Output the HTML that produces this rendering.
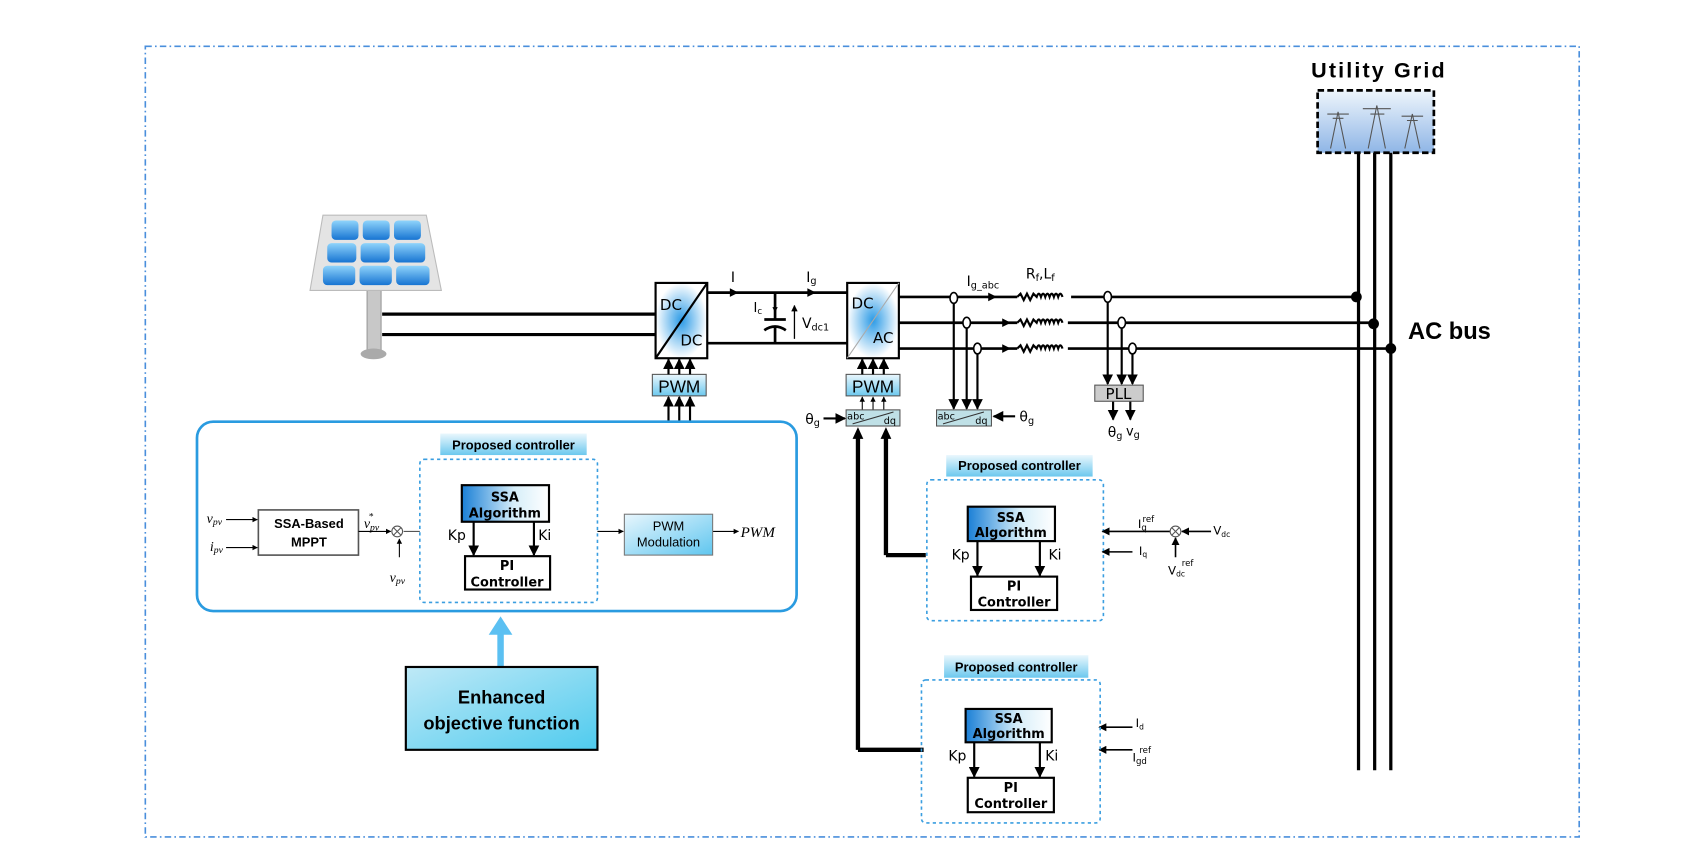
<!DOCTYPE html>
<html><head><meta charset="utf-8"><style>
html,body{margin:0;padding:0;background:#fff;}
svg{display:block;}
text{font-family:"Liberation Sans",sans-serif;}
.c{font-family:"DejaVu Sans","Liberation Sans",sans-serif;}
.s{font-family:"Liberation Serif",serif;font-style:italic;}
</style></head><body>
<svg width="1689" height="866" viewBox="0 0 1569 805" preserveAspectRatio="none" xmlns="http://www.w3.org/2000/svg">
<defs>
<marker id="a" viewBox="0 0 10 10" refX="9" refY="5" markerWidth="5" markerHeight="5" orient="auto"><path d="M0,0L10,5L0,10z" fill="#000"/></marker>
<linearGradient id="g1" x1="0" y1="0" x2="1" y2="1"><stop offset="0" stop-color="#bfe9f7"/><stop offset="1" stop-color="#4fcbee"/></linearGradient>
<linearGradient id="g2" x1="0" y1="0" x2="1" y2="0"><stop offset="0" stop-color="#1a7fd6"/><stop offset="0.6" stop-color="#d6eef9"/><stop offset="1" stop-color="#fff"/></linearGradient>
<linearGradient id="g3" x1="0" y1="0" x2="0" y2="1"><stop offset="0" stop-color="#eaf7fd"/><stop offset="1" stop-color="#6cc8ee"/></linearGradient>
<linearGradient id="g4" x1="0" y1="0" x2="1" y2="1"><stop offset="0" stop-color="#e8f6fd"/><stop offset="1" stop-color="#5fc6ef"/></linearGradient>
<radialGradient id="r1"><stop offset="0" stop-color="#2c9be6"/><stop offset="1" stop-color="#fff"/></radialGradient>
<linearGradient id="sky" x1="0" y1="0" x2="0" y2="1"><stop offset="0" stop-color="#eef5fc"/><stop offset="1" stop-color="#8fb6e6"/></linearGradient>
<linearGradient id="cell" x1="0" y1="0" x2="0" y2="1"><stop offset="0" stop-color="#8fd4fb"/><stop offset="1" stop-color="#1774d2"/></linearGradient>
</defs>
<rect x="0" y="0" width="1569" height="805" fill="#fff"/>
<rect x="135" y="43" width="1332" height="735" fill="#fff" stroke="#4a8fdc" stroke-width="1.5" stroke-dasharray="6,3,1.5,3"/>

<text x="1280" y="72" font-size="20" font-weight="bold" text-anchor="middle" textLength="124">Utility Grid</text>
<rect x="1224" y="84" width="108" height="58" fill="url(#sky)" stroke="#000" stroke-width="2.5" stroke-dasharray="6,3"/>
<g stroke="#555" stroke-width="1" fill="none">
<path d="M1236,138L1243,104L1250,138M1238,110h10M1233,106h20"/>
<path d="M1271,138L1279,98L1287,138M1273,106h13M1266,101h26"/>
<path d="M1305,138L1312,106L1319,138M1307,112h10M1302,108h20"/>
</g>
<g stroke="#000" stroke-width="3">
<line x1="1262" y1="142" x2="1262" y2="716"/><line x1="1277" y1="142" x2="1277" y2="716"/><line x1="1292" y1="142" x2="1292" y2="716"/>
</g>
<text x="1308" y="315" font-size="22" font-weight="bold">AC bus</text>

<rect x="341" y="268" width="13" height="60" fill="#c8c8c8" stroke="#999"/>
<ellipse cx="347" cy="329" rx="12" ry="5" fill="#aaa"/>
<path d="M300,200L396,200L410,270L288,270Z" fill="#e4e4e4" stroke="#bbb"/>
<g fill="url(#cell)">
<rect x="308" y="205" width="25" height="18" rx="4"/><rect x="337" y="205" width="25" height="18" rx="4"/><rect x="366" y="205" width="25" height="18" rx="4"/>
<rect x="304" y="226" width="27" height="18" rx="4"/><rect x="335" y="226" width="27" height="18" rx="4"/><rect x="366" y="226" width="29" height="18" rx="4"/>
<rect x="300" y="247" width="30" height="18" rx="4"/><rect x="334" y="247" width="30" height="18" rx="4"/><rect x="368" y="247" width="31" height="18" rx="4"/>
</g>
<g stroke="#000" stroke-width="3"><line x1="355" y1="292" x2="609" y2="292"/><line x1="355" y1="311" x2="609" y2="311"/></g>

<rect x="609" y="263" width="48" height="70" fill="url(#r1)" stroke="#000" stroke-width="2"/>
<line x1="609" y1="333" x2="657" y2="263" stroke="#000" stroke-width="2"/>
<text x="613" y="288" font-size="14" class="c">DC</text><text x="632" y="321" font-size="14" class="c">DC</text>
<g stroke="#000" stroke-width="2.5" fill="none">
<line x1="657" y1="272" x2="787" y2="272"/><line x1="657" y1="319" x2="787" y2="319"/>
<line x1="720" y1="272" x2="720" y2="297"/><line x1="710" y1="297" x2="730" y2="297"/>
<path d="M710,307Q720,300 730,307"/><line x1="720" y1="303" x2="720" y2="319"/>
</g>
<path d="M678,268L686,272L678,276z M750,268L758,272L750,276z" fill="#000"/>
<line x1="720" y1="274" x2="720" y2="290" stroke="#000" stroke-width="1" marker-end="url(#a)"/>
<line x1="738" y1="315" x2="738" y2="284" stroke="#000" stroke-width="1.2" marker-end="url(#a)"/>
<text x="679" y="262" font-size="13" class="c">I</text>
<text x="749" y="262" font-size="13" class="c">I<tspan font-size="9" dy="2">g</tspan></text>
<text x="700" y="290" font-size="12" class="c">I<tspan font-size="8" dy="2">c</tspan></text>
<text x="745" y="305" font-size="13" class="c">V<tspan font-size="9" dy="2">dc1</tspan></text>

<rect x="787" y="263" width="48" height="70" fill="url(#r1)" stroke="#000" stroke-width="2"/>
<line x1="787" y1="333" x2="835" y2="263" stroke="#aaa" stroke-width="1"/>
<text x="791" y="287" font-size="14" class="c">DC</text><text x="811" y="319" font-size="14" class="c">AC</text>

<rect x="606" y="348" width="50" height="20" fill="url(#g3)" stroke="#555"/>
<text x="631" y="365" font-size="16" text-anchor="middle">PWM</text>
<rect x="786" y="348" width="50" height="20" fill="url(#g3)" stroke="#555"/>
<text x="811" y="365" font-size="16" text-anchor="middle">PWM</text>
<g stroke="#000" stroke-width="2" marker-end="url(#a)">
<line x1="621" y1="348" x2="621" y2="334"/><line x1="631" y1="348" x2="631" y2="334"/><line x1="641" y1="348" x2="641" y2="334"/>
<line x1="621" y1="392" x2="621" y2="369"/><line x1="631" y1="392" x2="631" y2="369"/><line x1="641" y1="392" x2="641" y2="369"/>
<line x1="801" y1="348" x2="801" y2="334"/><line x1="811" y1="348" x2="811" y2="334"/><line x1="821" y1="348" x2="821" y2="334"/>
</g>
<g stroke="#000" stroke-width="1" marker-end="url(#a)">
<line x1="801" y1="381" x2="801" y2="369"/><line x1="811" y1="381" x2="811" y2="369"/><line x1="821" y1="381" x2="821" y2="369"/>
</g>
<rect x="786" y="381" width="50" height="15" fill="#bfe0e6" stroke="#555"/>
<line x1="792" y1="394" x2="830" y2="383" stroke="#333"/>
<text x="787" y="390" font-size="9" class="c">abc</text><text x="821" y="394" font-size="9" class="c">dq</text>
<line x1="765" y1="389" x2="785" y2="389" stroke="#000" stroke-width="2" marker-end="url(#a)"/>
<text x="748" y="394" font-size="13" class="c">θ<tspan font-size="9" dy="2">g</tspan></text>
<g stroke="#000" stroke-width="4" fill="none">
<path d="M797,697L797,405"/><path d="M797,697L858,697"/>
<path d="M823,516L823,405"/><path d="M823,516L860,516"/>
</g>
<path d="M792,408L797,397L802,408z M818,408L823,397L828,408z" fill="#000"/>

<g stroke="#000" stroke-width="2.5" fill="none">
<line x1="835" y1="276" x2="945" y2="276"/><line x1="835" y1="300" x2="945" y2="300"/><line x1="835" y1="324" x2="945" y2="324"/>
<line x1="995" y1="276" x2="1260" y2="276"/><line x1="992" y1="300" x2="1276" y2="300"/><line x1="992" y1="324" x2="1292" y2="324"/>
</g>
<g stroke="#000" stroke-width="2" fill="none">
<path d="M945,276l3,-3l3,6l3,-6l3,6l3,-6l3,3 q2,-6 4,0 q2,-6 4,0 q2,-6 4,0 q2,-6 4,0 q2,-6 4,0 q2,-6 4,0"/>
<path d="M945,300l3,-3l3,6l3,-6l3,6l3,-6l3,3 q2,-6 4,0 q2,-6 4,0 q2,-6 4,0 q2,-6 4,0 q2,-6 4,0 q2,-6 4,0"/>
<path d="M945,324l3,-3l3,6l3,-6l3,6l3,-6l3,3 q2,-6 4,0 q2,-6 4,0 q2,-6 4,0 q2,-6 4,0 q2,-6 4,0 q2,-6 4,0"/>
</g>
<path d="M918,272L926,276L918,280z M931,296L939,300L931,304z M931,320L939,324L931,328z" fill="#000"/>
<text x="898" y="266" font-size="13" class="c">I<tspan font-size="9" dy="2">g_abc</tspan></text>
<text x="953" y="259" font-size="13" class="c">R<tspan font-size="9" dy="2">f</tspan><tspan dy="-2">,L</tspan><tspan font-size="9" dy="2">f</tspan></text>
<g stroke="#000" stroke-width="2" marker-end="url(#a)">
<line x1="886" y1="281" x2="886" y2="380"/><line x1="898" y1="305" x2="898" y2="380"/><line x1="908" y1="329" x2="908" y2="380"/>
<line x1="1029" y1="281" x2="1029" y2="357"/><line x1="1042" y1="305" x2="1042" y2="357"/><line x1="1052" y1="329" x2="1052" y2="357"/>
<line x1="1034" y1="373" x2="1034" y2="390"/><line x1="1050" y1="373" x2="1050" y2="390"/>
<line x1="943" y1="387" x2="923" y2="387"/>
</g>
<g fill="#fff" stroke="#000" stroke-width="1.5">
<ellipse cx="886" cy="277" rx="3.5" ry="5"/><ellipse cx="898" cy="300" rx="3.5" ry="5"/><ellipse cx="908" cy="324" rx="3.5" ry="5"/>
<ellipse cx="1029" cy="276" rx="3.5" ry="5"/><ellipse cx="1042" cy="300" rx="3.5" ry="5"/><ellipse cx="1052" cy="324" rx="3.5" ry="5"/>
</g>
<rect x="870" y="381" width="51" height="15" fill="#bfe0e6" stroke="#555"/>
<line x1="876" y1="394" x2="914" y2="383" stroke="#333"/>
<text x="871" y="390" font-size="9" class="c">abc</text><text x="906" y="394" font-size="9" class="c">dq</text>
<text x="947" y="392" font-size="13" class="c">θ<tspan font-size="9" dy="2">g</tspan></text>
<rect x="1017" y="358" width="45" height="15" fill="#ccc" stroke="#555"/>
<text x="1039" y="371" font-size="14" text-anchor="middle" class="c">PLL</text>
<text x="1029" y="406" font-size="13" class="c">θ<tspan font-size="9" dy="2">g</tspan></text>
<text x="1046" y="405" font-size="12" class="c">v<tspan font-size="9" dy="2">g</tspan></text>
<g fill="#000"><circle cx="1260" cy="276" r="5"/><circle cx="1276" cy="301" r="5"/><circle cx="1292" cy="324" r="5"/></g>

<rect x="183" y="392" width="557" height="176" rx="15" fill="#fff" stroke="#2a9be0" stroke-width="2.5"/>
<rect x="409" y="403" width="136" height="20" fill="url(#g3)"/>
<text x="477" y="418" font-size="12" font-weight="bold" text-anchor="middle">Proposed controller</text>
<rect x="390" y="427" width="165" height="133" rx="4" fill="none" stroke="#3a9ee0" stroke-width="1.5" stroke-dasharray="3,3"/>
<rect x="429" y="451" width="81" height="34" fill="url(#g2)" stroke="#000" stroke-width="2"/>
<text x="469" y="466" font-size="12" font-weight="bold" text-anchor="middle" class="c">SSA</text>
<text x="469" y="481" font-size="12" font-weight="bold" text-anchor="middle" class="c">Algorithm</text>
<rect x="432" y="517" width="79" height="31" fill="#fff" stroke="#000" stroke-width="2"/>
<text x="471" y="530" font-size="12" font-weight="bold" text-anchor="middle" class="c">PI</text>
<text x="471" y="545" font-size="12" font-weight="bold" text-anchor="middle" class="c">Controller</text>
<g stroke="#000" stroke-width="2" marker-end="url(#a)"><line x1="440" y1="485" x2="440" y2="516"/><line x1="496" y1="485" x2="496" y2="516"/></g>
<text x="416" y="502" font-size="13" class="c">Kp</text><text x="500" y="502" font-size="13" class="c">Ki</text>
<rect x="240" y="474" width="93" height="42" fill="#fff" stroke="#555" stroke-width="1.5"/>
<text x="287" y="491" font-size="12" font-weight="bold" text-anchor="middle">SSA-Based</text>
<text x="287" y="508" font-size="12" font-weight="bold" text-anchor="middle">MPPT</text>
<g stroke="#000" stroke-width="1" marker-end="url(#a)">
<line x1="210" y1="483" x2="239" y2="483"/><line x1="210" y1="509" x2="239" y2="509"/>
<line x1="333" y1="494" x2="363" y2="494"/><line x1="371" y1="518" x2="371" y2="501"/>
<line x1="555" y1="494" x2="579" y2="494"/><line x1="662" y1="494" x2="686" y2="494"/>
</g>
<line x1="375" y1="494" x2="390" y2="494" stroke="#555"/>
<circle cx="369" cy="494" r="5" fill="#fff" stroke="#555"/>
<path d="M365.5,490.5l7,7M372.5,490.5l-7,7" stroke="#555"/>
<text x="192" y="486" font-size="13" class="s">v<tspan font-size="9" dy="2">pv</tspan></text>
<text x="195" y="512" font-size="13" class="s">i<tspan font-size="9" dy="2">pv</tspan></text>
<text x="338" y="491" font-size="13" class="s">v<tspan font-size="9" dy="2">pv</tspan><tspan font-size="9" dx="-10" dy="-10">*</tspan></text>
<text x="362" y="541" font-size="13" class="s">v<tspan font-size="9" dy="2">pv</tspan></text>
<rect x="580" y="478" width="82" height="38" fill="url(#g4)" stroke="#777"/>
<text x="621" y="493" font-size="12" text-anchor="middle" font-family="Liberation Serif,serif">PWM</text>
<text x="621" y="508" font-size="12" text-anchor="middle" font-family="Liberation Serif,serif">Modulation</text>
<text x="688" y="499" font-size="14" class="s">PWM</text>

<rect x="462" y="585" width="6" height="35" fill="#5bc0f2"/>
<path d="M454,590L465,573L476,590z" fill="#5bc0f2"/>
<rect x="377" y="620" width="178" height="77" fill="url(#g1)" stroke="#000" stroke-width="2"/>
<text x="466" y="654" font-size="17" font-weight="bold" text-anchor="middle">Enhanced</text>
<text x="466" y="678" font-size="17" font-weight="bold" text-anchor="middle">objective function</text>

<rect x="879" y="423" width="136" height="20" fill="url(#g3)"/>
<text x="947" y="437" font-size="12" font-weight="bold" text-anchor="middle">Proposed controller</text>
<rect x="861" y="446" width="164" height="131" rx="4" fill="none" stroke="#3a9ee0" stroke-width="1.5" stroke-dasharray="3,3"/>
<rect x="899" y="471" width="81" height="32" fill="url(#g2)" stroke="#000" stroke-width="2"/>
<text x="939" y="485" font-size="12" font-weight="bold" text-anchor="middle" class="c">SSA</text>
<text x="939" y="499" font-size="12" font-weight="bold" text-anchor="middle" class="c">Algorithm</text>
<rect x="902" y="536" width="80" height="31" fill="#fff" stroke="#000" stroke-width="2"/>
<text x="942" y="549" font-size="12" font-weight="bold" text-anchor="middle" class="c">PI</text>
<text x="942" y="564" font-size="12" font-weight="bold" text-anchor="middle" class="c">Controller</text>
<g stroke="#000" stroke-width="2" marker-end="url(#a)"><line x1="908" y1="503" x2="908" y2="535"/><line x1="966" y1="503" x2="966" y2="535"/></g>
<text x="884" y="520" font-size="13" class="c">Kp</text><text x="974" y="520" font-size="13" class="c">Ki</text>
<g stroke="#000" stroke-width="1.5" marker-end="url(#a)">
<line x1="1087" y1="494" x2="1024" y2="494"/><line x1="1052" y1="513" x2="1024" y2="513"/>
<line x1="1125" y1="494" x2="1098" y2="494"/><line x1="1092" y1="518" x2="1092" y2="500"/>
<line x1="1052" y1="676" x2="1021" y2="676"/><line x1="1052" y1="697" x2="1021" y2="697"/>
</g>
<circle cx="1092" cy="494" r="5" fill="#fff" stroke="#555"/>
<path d="M1088.5,490.5l7,7M1095.5,490.5l-7,7" stroke="#555"/>
<text x="1057" y="491" font-size="11" class="c">I<tspan font-size="8" dy="2">q</tspan><tspan font-size="8" dx="-4" dy="-8">ref</tspan></text>
<text x="1058" y="516" font-size="11" class="c">I<tspan font-size="7" dy="2">q</tspan></text>
<text x="1127" y="497" font-size="11" class="c">V<tspan font-size="7" dy="2">dc</tspan></text>
<text x="1085" y="534" font-size="11" class="c">V<tspan font-size="7" dy="2">dc</tspan><tspan font-size="8" dx="-3" dy="-10">ref</tspan></text>

<rect x="877" y="609" width="134" height="21" fill="url(#g3)"/>
<text x="944" y="624" font-size="12" font-weight="bold" text-anchor="middle">Proposed controller</text>
<rect x="856" y="632" width="166" height="133" rx="4" fill="none" stroke="#3a9ee0" stroke-width="1.5" stroke-dasharray="3,3"/>
<rect x="897" y="659" width="80" height="31" fill="url(#g2)" stroke="#000" stroke-width="2"/>
<text x="937" y="672" font-size="12" font-weight="bold" text-anchor="middle" class="c">SSA</text>
<text x="937" y="686" font-size="12" font-weight="bold" text-anchor="middle" class="c">Algorithm</text>
<rect x="899" y="723" width="80" height="32" fill="#fff" stroke="#000" stroke-width="2"/>
<text x="939" y="736" font-size="12" font-weight="bold" text-anchor="middle" class="c">PI</text>
<text x="939" y="751" font-size="12" font-weight="bold" text-anchor="middle" class="c">Controller</text>
<g stroke="#000" stroke-width="2" marker-end="url(#a)"><line x1="905" y1="690" x2="905" y2="722"/><line x1="966" y1="690" x2="966" y2="722"/></g>
<text x="881" y="707" font-size="13" class="c">Kp</text><text x="971" y="707" font-size="13" class="c">Ki</text>
<text x="1055" y="676" font-size="11" class="c">I<tspan font-size="7" dy="2">d</tspan></text>
<text x="1052" y="708" font-size="11" class="c">I<tspan font-size="8" dy="2">gd</tspan><tspan font-size="8" dx="-7" dy="-10">ref</tspan></text>
</svg>
</body></html>
